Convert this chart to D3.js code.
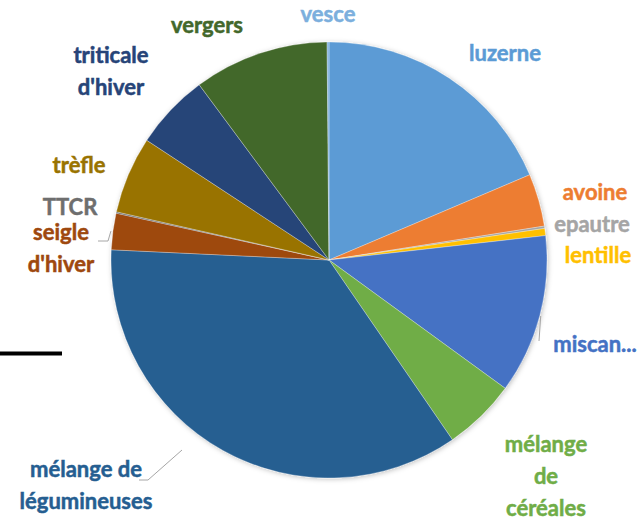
<!DOCTYPE html>
<html>
<head>
<meta charset="utf-8">
<script src="https://cdn.jsdelivr.net/npm/d3@7"></script>
<style>
  body { margin: 0; background: #fff; }
  svg { display: block; }
  .lbl { font-family: Lato, "Open Sans", sans-serif; font-weight: bold; font-size: 22px; stroke-width: 0.5px; }
</style>
</head>
<body>
<svg id="chart" width="642" height="520"></svg>
<script>
// cultures, clockwise from 12 o'clock
const cultures = ["luzerne", "avoine", "epautre", "lentille", "miscanthus",
  "mélange de céréales", "mélange de légumineuses", "seigle d'hiver", "TTCR",
  "trèfle", "triticale d'hiver", "vergers", "vesce"]
// share of surface (%)
const parts = [18.6, 3.9, 0.17, 0.53, 11.8, 5.4, 35.3, 2.7, 0.1, 5.7, 5.6, 10.0, 0.14]
const couleurs = ["#5B9BD5", "#ED7D31", "#A5A5A5", "#FFC000", "#4472C4", "#70AD47",
  "#255E91", "#9E480E", "#636363", "#997300", "#264478", "#43682B", "#7CAFDD"]
// text shown for each label (lines)
const etiquettes = [["luzerne"], ["avoine"], ["epautre"], ["lentille"], ["miscan..."],
  ["mélange", "de", "céréales"], ["mélange de", "légumineuses"], ["seigle", "d'hiver"], ["TTCR"],
  ["trèfle"], ["triticale", "d'hiver"], ["vergers"], ["vesce"]]

const cx = 329, cy = 260, R = 218

// label placement (center x, first baseline y)
const labelPos = {
  "luzerne": [505, 61], "avoine": [595, 200], "epautre": [592, 232], "lentille": [598, 263],
  "miscanthus": [595, 352], "mélange de céréales": [546, 452], "mélange de légumineuses": [86, 477],
  "seigle d'hiver": [61, 240], "TTCR": [70, 215], "trèfle": [79, 173],
  "triticale d'hiver": [111, 63], "vergers": [207, 33], "vesce": [328, 22]
}
const lineH = 32

var svg = d3.select("#chart")

var defs = svg.append("defs")
var f = defs.append("filter").attr("id", "ombre").attr("x", "-10%").attr("y", "-10%").attr("width", "120%").attr("height", "120%")
f.append("feDropShadow").attr("dx", 1).attr("dy", 1).attr("stdDeviation", 2.5)
  .attr("flood-color", "#000").attr("flood-opacity", 0.25)

var pie = d3.pie().sort(null).value(d => d.v)
var arc = d3.arc().innerRadius(0).outerRadius(R)

var data = cultures.map((c, i) => ({ nom: c, v: parts[i], couleur: couleurs[i], lignes: etiquettes[i] }))
var arcs = pie(data)

var g = svg.append("g").attr("transform", "translate(" + cx + "," + cy + ")")
g.append("g").attr("filter", "url(#ombre)")
  .selectAll("path").data(arcs).enter().append("path")
  .attr("d", arc)
  .attr("fill", d => d.data.couleur)
  .attr("stroke", "#fff").attr("stroke-width", 0.3)

// point on the pie edge at a given angle (radians, clockwise from north)
function bord(a, r) {
  return [cx + r * Math.sin(a), cy - r * Math.cos(a)]
}

// leader lines
var byName = {}
arcs.forEach(a => byName[a.data.nom] = a)
var leaders = [
  [[98, 241], [108, 241], bord((byName["seigle d'hiver"].startAngle + byName["seigle d'hiver"].endAngle) / 2, R + 2)],
  [[539, 341], bord((byName["miscanthus"].startAngle + byName["miscanthus"].endAngle) / 2, R + 1)],
  [[139, 480], [148, 480], [182, 450]]
]
svg.append("g").selectAll("polyline").data(leaders).enter().append("polyline")
  .attr("points", d => d.map(p => p.join(",")).join(" "))
  .attr("fill", "none").attr("stroke", "#A6A6A6").attr("stroke-width", 1)

// labels
var lbl = svg.append("g").selectAll("text").data(arcs).enter().append("text")
  .attr("class", "lbl")
  .attr("text-anchor", "middle")
  .attr("fill", d => d.data.nom == "TTCR" ? "#6E6E6E" : d.data.couleur)
  .attr("stroke", d => d.data.nom == "TTCR" ? "#6E6E6E" : d.data.couleur)
  .attr("x", d => labelPos[d.data.nom][0])
  .attr("y", d => labelPos[d.data.nom][1])
lbl.selectAll("tspan").data(d => d.data.lignes.map((t, i) => ({ t: t, i: i, x: labelPos[d.data.nom][0] })))
  .enter().append("tspan")
  .attr("x", d => d.x)
  .attr("dy", d => d.i == 0 ? 0 : lineH)
  .text(d => d.t)

// stray black rule at the left edge
svg.append("line").attr("x1", 0).attr("x2", 62).attr("y1", 353.5).attr("y2", 353.5)
  .attr("stroke", "#000").attr("stroke-width", 4)
</script>
</body>
</html>
